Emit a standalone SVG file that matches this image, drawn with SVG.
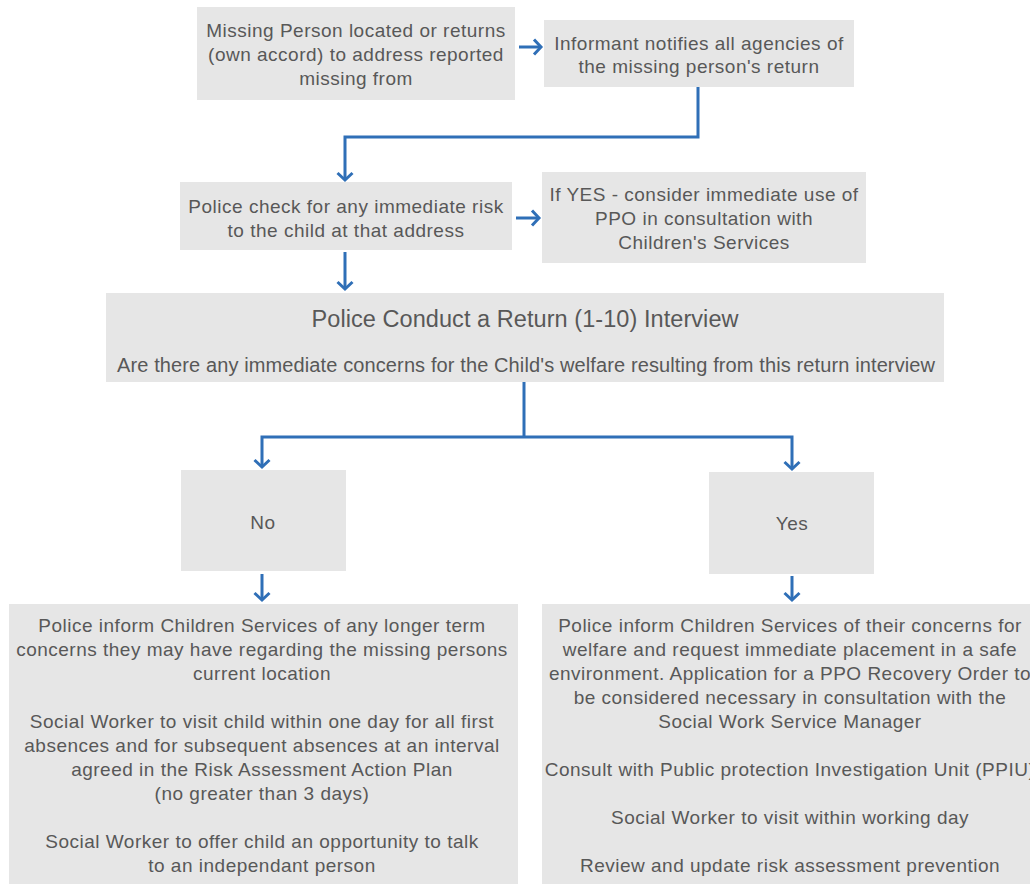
<svg xmlns="http://www.w3.org/2000/svg" width="1030" height="884" viewBox="0 0 1030 884">
  <style>
    .box { fill: #e6e6e6; }
    .t { font-family: "Liberation Sans", Arial, sans-serif; font-size: 19px; letter-spacing: 0.5px; fill: #585858; text-anchor: middle; }
    .fit { letter-spacing: 0; font-size: 20px; }
    .title { font-size: 23.5px; }
    .wire { fill: none; stroke: #2f6fb7; stroke-width: 3; }
    .arrow { marker-end: url(#chev); }
  </style>
  <defs>
    <marker id="chev" markerUnits="userSpaceOnUse" markerWidth="24" markerHeight="24" viewBox="-12 -12 24 24" refX="0" refY="0" orient="auto" overflow="visible">
      <path d="M-7,-7.5 L0,0 L-7,7.5" fill="none" stroke="#2f6fb7" stroke-width="3"/>
    </marker>
  </defs>
  <rect width="1030" height="884" fill="#ffffff"/>

  <g id="located">
    <rect class="box" x="197" y="7" width="318" height="93"/>
    <text class="t" x="356" y="37">Missing Person located or returns</text>
    <text class="t" x="356" y="61">(own accord) to address reported</text>
    <text class="t" x="356" y="85">missing from</text>
  </g>

  <g id="informant">
    <rect class="box" x="544" y="20" width="310" height="67"/>
    <text class="t" x="699" y="50">Informant notifies all agencies of</text>
    <text class="t" x="699" y="73">the missing person's return</text>
  </g>

  <g id="police-check">
    <rect class="box" x="180" y="182" width="332" height="68"/>
    <text class="t" x="346" y="213">Police check for any immediate risk</text>
    <text class="t" x="346" y="237">to the child at that address</text>
  </g>

  <g id="ppo">
    <rect class="box" x="542" y="172" width="324" height="91"/>
    <text class="t" x="704" y="201">If YES - consider immediate use of</text>
    <text class="t" x="704" y="225">PPO in consultation with</text>
    <text class="t" x="704" y="249">Children's Services</text>
  </g>

  <g id="interview">
    <rect class="box" x="106" y="293" width="838" height="89"/>
    <text class="t fit title" x="525" y="327" textLength="427">Police Conduct a Return (1-10) Interview</text>
    <text class="t fit" x="526" y="372" textLength="818">Are there any immediate concerns for the Child's welfare resulting from this return interview</text>
  </g>

  <g id="no">
    <rect class="box" x="181" y="470" width="165" height="101"/>
    <text class="t" x="263" y="529">No</text>
  </g>

  <g id="yes">
    <rect class="box" x="709" y="472" width="165" height="102"/>
    <text class="t" x="792" y="530">Yes</text>
  </g>

  <g id="no-actions">
    <rect class="box" x="9" y="604" width="509" height="290"/>
    <text class="t" x="262" y="632">Police inform Children Services of any longer term</text>
    <text class="t" x="262" y="656">concerns they may have regarding the missing persons</text>
    <text class="t" x="262" y="680">current location</text>
    <text class="t" x="262" y="728">Social Worker to visit child within one day for all first</text>
    <text class="t" x="262" y="752">absences and for subsequent absences at an interval</text>
    <text class="t" x="262" y="776">agreed in the Risk Assessment Action Plan</text>
    <text class="t" x="262" y="800">(no greater than 3 days)</text>
    <text class="t" x="262" y="848">Social Worker to offer child an opportunity to talk</text>
    <text class="t" x="262" y="872">to an independant person</text>
  </g>

  <g id="yes-actions">
    <rect class="box" x="542" y="604" width="510" height="290"/>
    <text class="t" x="790" y="632">Police inform Children Services of their concerns for</text>
    <text class="t" x="790" y="656">welfare and request immediate placement in a safe</text>
    <text class="t" x="790" y="680">environment. Application for a PPO Recovery Order to</text>
    <text class="t" x="790" y="704">be considered necessary in consultation with the</text>
    <text class="t" x="790" y="728">Social Work Service Manager</text>
    <text class="t" x="790" y="776">Consult with Public protection Investigation Unit (PPIU)</text>
    <text class="t" x="790" y="824">Social Worker to visit within working day</text>
    <text class="t" x="790" y="872">Review and update risk assessment prevention</text>
  </g>

  <g id="connectors">
    <path class="wire arrow" d="M519,47 H541"/>
    <path class="wire arrow" d="M698,87 V137 H345 V180"/>
    <path class="wire arrow" d="M516,218 H539"/>
    <path class="wire arrow" d="M345,252 V289"/>
    <path class="wire" d="M524,382 V437"/>
    <path class="wire arrow" d="M524,437 H262 V467"/>
    <path class="wire arrow" d="M524,437 H792 V469"/>
    <path class="wire arrow" d="M262,574 V600"/>
    <path class="wire arrow" d="M792,576 V600"/>
  </g>
</svg>
